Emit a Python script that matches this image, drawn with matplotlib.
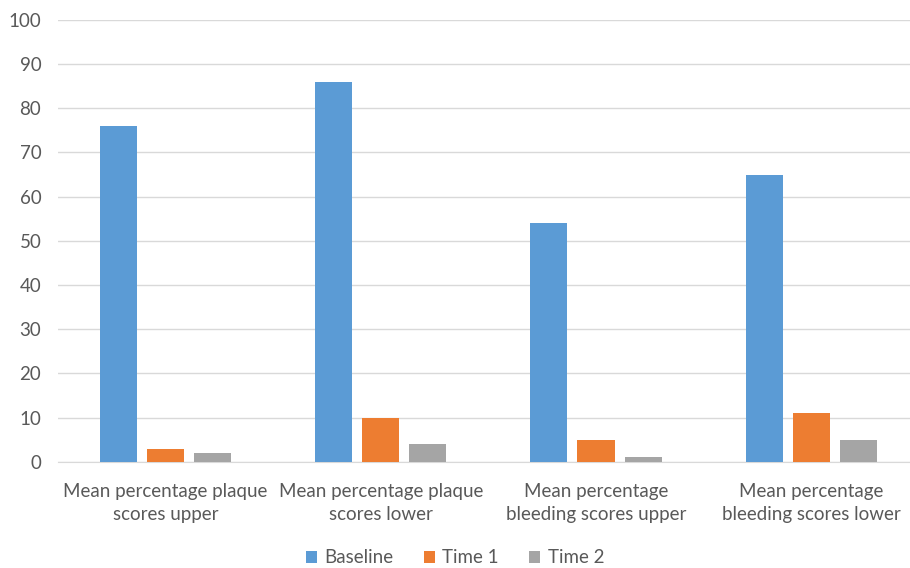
import numpy as np
import matplotlib
matplotlib.use("Agg")
import matplotlib.pyplot as plt

categories = ["Mean percentage plaque\nscores upper",
              "Mean percentage plaque\nscores lower",
              "Mean percentage\nbleeding scores upper",
              "Mean percentage\nbleeding scores lower"]
series_names = ["Baseline", "Time 1", "Time 2"]
baseline = [76, 86, 54, 65]
time1 = [3, 10, 5, 11]
time2 = [2, 4, 1, 5]
colors = ["#5b9bd5", "#ed7d31", "#a5a5a5"]

plt.rcParams['font.family'] = ['Lato', 'DejaVu Sans']

fig = plt.figure(figsize=(9.1, 5.68), dpi=100)
# plot area runs a little past the right edge, as in the cropped original
ax = fig.add_axes([0.0637, 0.187, 0.946, 0.778])

x = np.arange(len(categories))
width = 0.172
offset = 0.219
for i, (vals, name) in enumerate(zip([baseline, time1, time2], series_names)):
    ax.bar(x + (i - 1) * offset, vals, width, color=colors[i], label=name, zorder=3)

ax.set_xlim(-0.5, len(categories) - 0.5)
ax.set_ylim(0, 100)
ax.set_yticks(range(0, 101, 10))
ax.yaxis.grid(True, color="#d9d9d9", linewidth=1, zorder=0)
for s in ["top", "right", "left"]:
    ax.spines[s].set_visible(False)
ax.spines["bottom"].set_color("#d9d9d9")
ax.tick_params(axis="both", length=0, labelsize=13.5, labelcolor="#595959")
ax.tick_params(axis="y", pad=12)
ax.tick_params(axis="x", pad=15)
ax.set_xticks(x)
ax.set_xticklabels(categories, linespacing=1.45)

fig.legend(loc="lower center", ncol=3, frameon=False, fontsize=13.5,
           bbox_to_anchor=(0.5, -0.027), handlelength=0.6, handleheight=0.6,
           columnspacing=1.6, handletextpad=0.4, labelcolor="#595959")

fig.savefig("out.png", dpi=100)
